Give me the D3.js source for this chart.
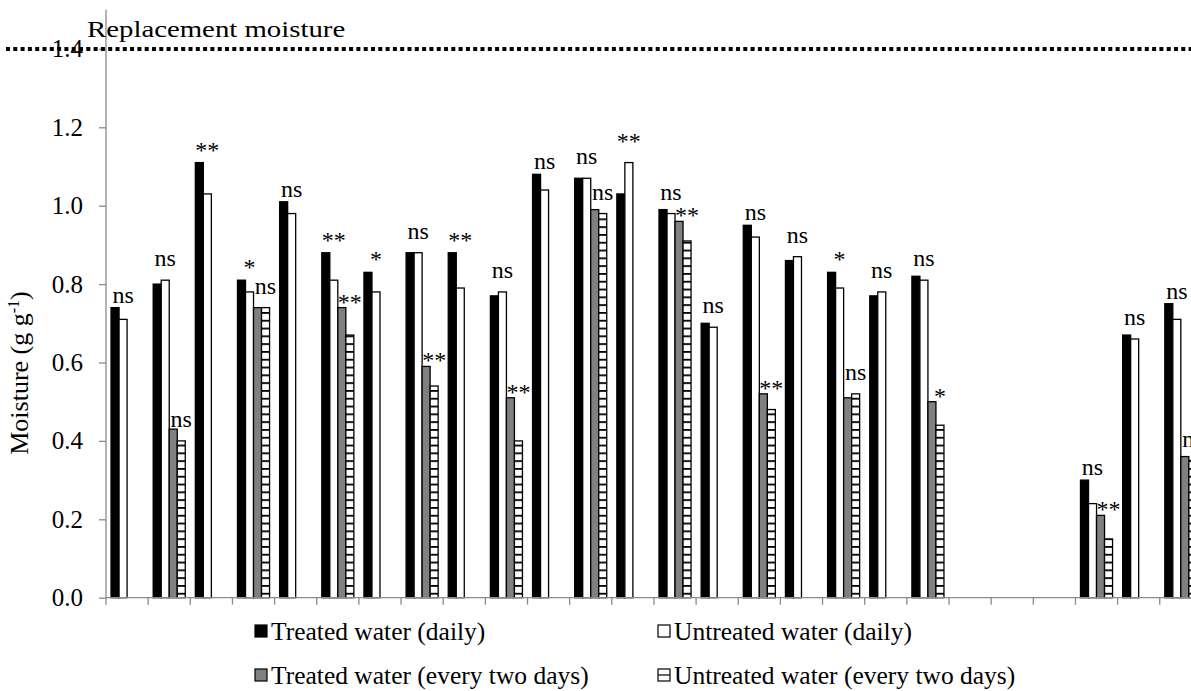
<!DOCTYPE html>
<html><head><meta charset="utf-8">
<script src="https://cdn.jsdelivr.net/npm/d3@7"></script>
<style>
body{margin:0;background:#fff}
svg{display:block}
text{font-family:"Liberation Serif","Times New Roman",serif;fill:#000}
</style>
</head><body>
<svg id="chart" width="1191" height="691"></svg>
<script>
// ---------------- data ----------------
const categories = ["1","2","3","4","5","6","7","8","9","10","11","12","13","14","15","16","17","18","19","20","21","22","23","24","25","26"];
const seriesNames = ["Treated water (daily)","Untreated water (daily)","Treated water (every two days)","Untreated water (every two days)"];
const treatedDaily     = [0.74,0.80,1.11,0.81,1.01,0.88,0.83,0.88,0.88,0.77,1.08,1.07,1.03,0.99,0.70,0.95,0.86,0.83,0.77,0.82,null,null,null,0.30,0.67,0.75];
const untreatedDaily   = [0.71,0.81,1.03,0.78,0.98,0.81,0.78,0.88,0.79,0.78,1.04,1.07,1.11,0.98,0.69,0.92,0.87,0.79,0.78,0.81,null,null,null,0.24,0.66,0.71];
const treatedTwoDays   = [null,0.43,null,0.74,null,0.74,null,0.59,null,0.51,null,0.99,null,0.96,null,0.52,null,0.51,null,0.50,null,null,null,0.21,null,0.36];
const untreatedTwoDays = [null,0.40,null,0.74,null,0.67,null,0.54,null,0.40,null,0.98,null,0.91,null,0.48,null,0.52,null,0.44,null,null,null,0.15,null,0.35];
const sigDaily   = ["ns","ns","**","*","ns","**","*","ns","**","ns","ns","ns","**","ns","ns","ns","ns","*","ns","ns",null,null,null,"ns","ns","ns"];
const sigTwoDays = [null,"ns",null,"ns",null,"**",null,"**",null,"**",null,"ns",null,"**",null,"**",null,"ns",null,"*",null,null,null,"**",null,"ns"];
const yTickValues = [0,0.2,0.4,0.6,0.8,1.0,1.2,1.4];
const yMax = 1.5;
const replacementMoisture = 1.4;
const replacementLabel = "Replacement moisture";
const yTitle = "Moisture (g g";
const yTitleSup = "-1";

// ---------------- layout ----------------
const W = 1191, H = 691;
const plotLeft = 106, plotBottom = 597.7, plotTop = 9.7;
const step = 42.15;
const axisColor = "#8a8a8a";

const svg = d3.select("#chart");

const x0 = d3.scaleBand().domain(categories)
  .range([plotLeft, plotLeft + step * categories.length]).paddingInner(0).paddingOuter(0);
const x1 = d3.scaleBand().domain(seriesNames)
  .range([0, x0.bandwidth()]).paddingInner(0).paddingOuter(0.63);
const y = d3.scaleLinear().domain([0, yMax]).range([plotBottom, plotTop]);

// hatch pattern
const defs = svg.append("defs");
const pat = defs.append("pattern").attr("id","hatch").attr("patternUnits","userSpaceOnUse")
  .attr("width", 8).attr("height", 7.8);
pat.append("rect").attr("width",8).attr("height",7.8).attr("fill","#fff");
pat.append("rect").attr("y",0).attr("width",8).attr("height",1.8).attr("fill","#000");

const fills = {
  [seriesNames[0]]: "#000",
  [seriesNames[1]]: "#fff",
  [seriesNames[2]]: "#808080",
  [seriesNames[3]]: "url(#hatch)"
};
const seriesData = [treatedDaily, untreatedDaily, treatedTwoDays, untreatedTwoDays];

// bars
const barData = [];
categories.forEach((c, i) => {
  seriesNames.forEach((s, k) => {
    const v = seriesData[k][i];
    if (v != null) barData.push({c, s, v});
  });
});
svg.append("g").selectAll("rect").data(barData).join("rect")
  .attr("x", d => x0(d.c) + x1(d.s))
  .attr("y", d => y(d.v))
  .attr("width", x1.bandwidth())
  .attr("height", d => y(0) - y(d.v))
  .attr("fill", d => fills[d.s])
  .attr("stroke", "#000")
  .attr("stroke-width", 1.3);

// axes
const yAxis = d3.axisLeft(y).tickValues(yTickValues).tickSize(7).tickPadding(16)
  .tickFormat(d3.format(".1f"));
const gy = svg.append("g").attr("transform", `translate(${plotLeft},0)`).call(yAxis);
gy.select(".domain").attr("stroke", axisColor).attr("stroke-width", 1.3).attr("d", `M-0,${plotTop}V${plotBottom}`);
gy.selectAll(".tick line").attr("stroke", axisColor).attr("stroke-width", 1.3);
gy.selectAll(".tick text").attr("font-size", 25).attr("font-family", '"Liberation Serif","Times New Roman",serif')
  .attr("fill", "#000");

// x axis: line + ticks at band boundaries
const gx = svg.append("g");
gx.append("line").attr("x1", plotLeft).attr("x2", W).attr("y1", y(0)).attr("y2", y(0))
  .attr("stroke", axisColor).attr("stroke-width", 1.3);
const boundaries = categories.map(c => x0(c)).concat([x0.range()[1]]);
gx.selectAll("line.tk").data(boundaries).join("line").attr("class","tk")
  .attr("x1", d => d).attr("x2", d => d).attr("y1", y(0)).attr("y2", y(0) + 7)
  .attr("stroke", axisColor).attr("stroke-width", 1.3);

// replacement moisture dotted line
svg.append("line").attr("x1", 6).attr("x2", W).attr("y1", y(replacementMoisture)).attr("y2", y(replacementMoisture))
  .attr("stroke", "#000").attr("stroke-width", 4).attr("stroke-dasharray", "4,3.3");
svg.append("text").attr("transform", `translate(87,${y(replacementMoisture) - 12}) scale(1.2,1)`)
  .attr("font-size", 24).text(replacementLabel);

// significance labels
const labels = [];
categories.forEach((c, i) => {
  if (sigDaily[i]) {
    const a = treatedDaily[i], b = untreatedDaily[i];
    labels.push({t: sigDaily[i], x: x0(c) + x1(seriesNames[1]) + x1.bandwidth()/2,
      yb: Math.min(y(b) - 14, y(a) - 5)});
  }
  if (sigTwoDays[i]) {
    const a = treatedTwoDays[i], b = untreatedTwoDays[i];
    labels.push({t: sigTwoDays[i], x: x0(c) + x1(seriesNames[3]) + x1.bandwidth()/2,
      yb: Math.min(y(b) - 14, y(a) + 2)});
  }
});
svg.append("g").selectAll("text").data(labels).join("text")
  .attr("x", d => d.x).attr("y", d => d.yb)
  .attr("text-anchor", "middle").attr("font-size", 24)
  .text(d => d.t);

// y title
const yt = svg.append("text").attr("transform", `translate(28,373) rotate(-90)`)
  .attr("text-anchor", "middle").attr("font-size", 26);
yt.append("tspan").text(yTitle);
yt.append("tspan").attr("font-size", 16).attr("dy", -9).text(yTitleSup);
yt.append("tspan").attr("dy", 9).text(")");

// legend
const legendItems = [
  {s: seriesNames[0], col: 0, row: 0},
  {s: seriesNames[1], col: 1, row: 0},
  {s: seriesNames[2], col: 0, row: 1},
  {s: seriesNames[3], col: 1, row: 1}
];
const colX = [254, 657], rowY = [640, 684];
const lg = svg.append("g").selectAll("g").data(legendItems).join("g")
  .attr("transform", d => `translate(${colX[d.col]},${rowY[d.row]})`);
lg.append("rect").attr("x", 1).attr("y", -15).attr("width", 12).attr("height", 12)
  .attr("fill", d => d.s === seriesNames[3] ? "#fff" : fills[d.s])
  .attr("stroke", "#000").attr("stroke-width", 1.2);
lg.filter(d => d.s === seriesNames[3]).append("line")
  .attr("x1", 1).attr("x2", 13).attr("y1", -9).attr("y2", -9).attr("stroke", "#000").attr("stroke-width", 1.2);
lg.append("text").attr("x", 17).attr("y", 0).attr("font-size", 25.5).text(d => d.s);
</script>
</body></html>
